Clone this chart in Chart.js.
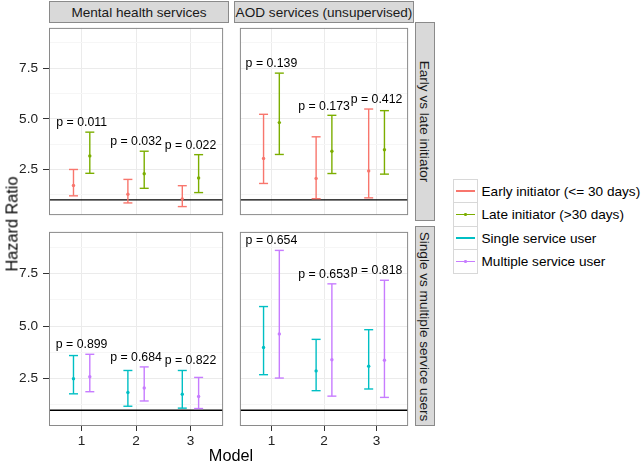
<!DOCTYPE html>
<html>
<head>
<meta charset="utf-8">
<script src="https://cdn.jsdelivr.net/npm/chart.js@4.4.0/dist/chart.umd.min.js"></script>
<style>
  body { margin: 0; background: #fff; font-family: "Liberation Sans", Arial, sans-serif; }
  #wrap { position: relative; width: 642px; height: 465px; overflow: hidden; background: #fff; }
  #wrap canvas { position: absolute; }
  .strip { position: absolute; box-sizing: border-box; background: #d9d9d9; border: 1px solid #8a8a8a;
           color: #1a1a1a; font-size: 13.6px; display: flex; align-items: center; justify-content: center;
           white-space: nowrap; overflow: visible; }
  .strip.side span { display: block; transform: rotate(90deg); white-space: nowrap; }
  .title { position: absolute; white-space: nowrap; font-size: 16.3px; color: #000; transform: translate(-50%, -50%); }
  .key { position: absolute; box-sizing: border-box; width: 25px; height: 24.5px; border: 1px solid #d8d8d8; background: #fff; }
  .key .ln { position: absolute; left: 2px; right: 2px; top: 10.8px; height: 1.3px; }
  .key .dt { position: absolute; left: 10.8px; top: 10.2px; width: 2.5px; height: 2.5px; border-radius: 50%; }
  .ltxt { position: absolute; white-space: nowrap; font-size: 13.6px; color: #000; transform: translateY(-50%); }
</style>
</head>
<body>
<div id="wrap">
  <canvas id="c00" width="229" height="199" style="left:0px;top:22px"></canvas>
  <canvas id="c01" width="180" height="199" style="left:234px;top:22px"></canvas>
  <canvas id="c10" width="229" height="239" style="left:0px;top:226px"></canvas>
  <canvas id="c11" width="180" height="239" style="left:234px;top:226px"></canvas>
</div>
<script>
// x positions / labels
const models = [1, 2, 3];
const modelLabels = ["1", "2", "3"];
const yTicks = [1.25, 2.5, 3.75, 5, 6.25, 7.5, 8.75];

const colTitles = ["Mental health services", "AOD services (unsupervised)"];
const rowTitles = ["Early vs late initiator", "Single vs multiple service users"];
const seriesNames = ["Early initiator (<= 30 days)", "Late initiator (>30 days)", "Single service user", "Multiple service user"];
const seriesColors = ["#F8766D", "#7CAE00", "#00BFC4", "#C77CFF"];

// hazard ratios (estimate, lower, upper) per model
const mhEarlyEst = [1.71, 1.28, 1.05];
const mhEarlyLo  = [1.20, 0.85, 0.67];
const mhEarlyHi  = [2.50, 2.01, 1.70];
const mhLateEst  = [3.17, 2.29, 2.08];
const mhLateLo   = [2.31, 1.57, 1.36];
const mhLateHi   = [4.34, 3.40, 3.23];

const aodEarlyEst = [3.04, 2.06, 2.43];
const aodEarlyLo  = [1.81, 1.06, 1.10];
const aodEarlyHi  = [5.22, 4.11, 5.48];
const aodLateEst  = [4.81, 3.40, 3.47];
const aodLateLo   = [3.24, 2.30, 2.27];
const aodLateHi   = [7.25, 5.17, 5.40];

const mhSingleEst = [2.50, 1.84, 1.76];
const mhSingleLo  = [1.78, 1.19, 1.10];
const mhSingleHi  = [3.60, 2.89, 2.89];
const mhMultiEst  = [2.59, 2.06, 1.65];
const mhMultiLo   = [1.88, 1.44, 1.08];
const mhMultiHi   = [3.66, 3.06, 2.56];

const aodSingleEst = [3.98, 2.87, 3.09];
const aodSingleLo  = [2.69, 1.93, 2.01];
const aodSingleHi  = [5.93, 4.37, 4.83];
const aodMultiEst  = [4.63, 3.40, 3.38];
const aodMultiLo   = [2.53, 1.67, 1.61];
const aodMultiHi   = [8.60, 7.01, 7.18];

const mhEarlyLateP   = ["p = 0.011", "p = 0.032", "p = 0.022"];
const aodEarlyLateP  = ["p = 0.139", "p = 0.173", "p = 0.412"];
const mhSingleMultiP = ["p = 0.899", "p = 0.684", "p = 0.822"];
const aodSingleMultiP = ["p = 0.654", "p = 0.653", "p = 0.818"];

const refLine = 1;
const dodge = 0.15;
const labelGap = 0.45;
const FONT = '"Liberation Sans", Arial, sans-serif';

const panels = [
  { id: "c00", left: true,  bottom: false, p: mhEarlyLateP,
    a: { est: mhEarlyEst, lo: mhEarlyLo, hi: mhEarlyHi, color: seriesColors[0] },
    b: { est: mhLateEst, lo: mhLateLo, hi: mhLateHi, color: seriesColors[1] } },
  { id: "c01", left: false, bottom: false, p: aodEarlyLateP,
    a: { est: aodEarlyEst, lo: aodEarlyLo, hi: aodEarlyHi, color: seriesColors[0] },
    b: { est: aodLateEst, lo: aodLateLo, hi: aodLateHi, color: seriesColors[1] } },
  { id: "c10", left: true,  bottom: true, p: mhSingleMultiP,
    a: { est: mhSingleEst, lo: mhSingleLo, hi: mhSingleHi, color: seriesColors[2] },
    b: { est: mhMultiEst, lo: mhMultiLo, hi: mhMultiHi, color: seriesColors[3] } },
  { id: "c11", left: false, bottom: true, p: aodSingleMultiP,
    a: { est: aodSingleEst, lo: aodSingleLo, hi: aodSingleHi, color: seriesColors[2] },
    b: { est: aodMultiEst, lo: aodMultiLo, hi: aodMultiHi, color: seriesColors[3] } },
];

const isMajor = (v) => Math.abs(v / 2.5 - Math.round(v / 2.5)) < 1e-6;

function errorBars(s, off) {
  const pts = [];
  models.forEach((m, i) => {
    pts.push({ x: m + off, y: s.lo[i] }, { x: m + off, y: s.hi[i] }, { x: m + off, y: null });
  });
  return {
    type: "line", data: pts, borderColor: s.color, borderWidth: 1.4, tension: 0, spanGaps: false,
    pointStyle: "line", pointRadius: 4.5, pointBorderWidth: 1.4, pointBorderColor: s.color,
  };
}

function estPoints(s, off) {
  return {
    type: "scatter", data: models.map((m, i) => ({ x: m + off, y: s.est[i] })),
    pointRadius: 1.7, pointBackgroundColor: s.color, pointBorderWidth: 0, showLine: false,
  };
}

function makePanel(pn) {
  const decor = {
    id: "decor",
    afterDatasetsDraw(chart) {
      const { ctx, chartArea: a, scales } = chart;
      ctx.save();
      ctx.font = "12.3px " + FONT;
      ctx.fillStyle = "#000";
      ctx.textAlign = "center";
      ctx.textBaseline = "middle";
      pn.p.forEach((t, i) => {
        const top = Math.max(pn.a.hi[i], pn.b.hi[i]) + labelGap;
        ctx.fillText(t, scales.x.getPixelForValue(models[i]), scales.y.getPixelForValue(top));
      });
      ctx.strokeStyle = "#8a8a8a";
      ctx.lineWidth = 1;
      ctx.strokeRect(a.left + 0.5, a.top + 0.5, a.right - a.left - 1, a.bottom - a.top - 1);
      ctx.restore();
    },
  };

  new Chart(document.getElementById(pn.id), {
    type: "scatter",
    data: {
      datasets: [
        errorBars(pn.a, -dodge), estPoints(pn.a, -dodge),
        errorBars(pn.b, dodge), estPoints(pn.b, dodge),
        { type: "line", data: [{ x: 0.4, y: refLine }, { x: 3.6, y: refLine }],
          borderColor: "#000", borderWidth: 1.3, pointRadius: 0 },
      ],
    },
    options: {
      responsive: false,
      animation: false,
      events: [],
      layout: { padding: 0 },
      plugins: { legend: { display: false }, tooltip: { enabled: false } },
      scales: {
        x: {
          type: "linear", min: 0.4, max: 3.6,
          afterBuildTicks: (s) => { s.ticks = models.map((v) => ({ value: v })); },
          ticks: { display: pn.bottom, autoSkip: false, maxRotation: 0, padding: 2, color: "#222",
                   font: { size: 13.6, family: FONT }, callback: (v, i) => modelLabels[i] },
          grid: { color: "#ebebeb", lineWidth: 1, drawTicks: pn.bottom, tickLength: 5, tickColor: "#333" },
          border: { display: false },
          afterFit: (s) => { s.height = pn.bottom ? 39 : 0; s.paddingLeft = 0; s.paddingRight = 0; },
        },
        y: {
          type: "linear", min: 0.25, max: 9.48,
          afterBuildTicks: (s) => { s.ticks = yTicks.map((v) => ({ value: v })); },
          ticks: { display: pn.left, autoSkip: false, padding: 5, color: "#222",
                   font: { size: 13.6, family: FONT },
                   callback: (v) => (isMajor(v) ? v.toFixed(1) : "") },
          grid: {
            color: (c) => (c.tick && isMajor(c.tick.value) ? "#ebebeb" : "#f6f6f6"),
            lineWidth: 1, drawTicks: pn.left, tickLength: 6,
            tickColor: (c) => (c.tick && isMajor(c.tick.value) ? "#333" : "rgba(0,0,0,0)"),
          },
          border: { display: false },
          afterFit: (s) => { s.width = pn.left ? 49 : 0; s.paddingTop = 0; s.paddingBottom = 0; },
        },
      },
    },
    plugins: [decor],
  });
}

panels.forEach(makePanel);

// facet strips, axis titles and legend
const wrap = document.getElementById("wrap");
function add(cls, style, html) {
  const d = document.createElement("div");
  d.className = cls;
  Object.assign(d.style, style);
  d.innerHTML = html;
  wrap.appendChild(d);
  return d;
}

add("strip", { left: "49px", top: "1px", width: "180px", height: "22px" }, colTitles[0]);
add("strip", { left: "234px", top: "1px", width: "180px", height: "22px" }, colTitles[1]);
add("strip side", { left: "415px", top: "22px", width: "20px", height: "199px" }, "<span>" + rowTitles[0] + "</span>");
add("strip side", { left: "415px", top: "226px", width: "20px", height: "200px" }, "<span>" + rowTitles[1] + "</span>");

add("title", { left: "231px", top: "455px" }, "Model");
add("title", { left: "11.5px", top: "224px", transform: "translate(-50%, -50%) rotate(-90deg)" }, "Hazard Ratio");

seriesNames.forEach((name, i) => {
  const top = 178.7 + i * 23.5;
  add("key", { left: "452.5px", top: top + "px" },
      '<div class="ln" style="background:' + seriesColors[i] + '"></div>' +
      '<div class="dt" style="background:' + seriesColors[i] + '"></div>');
  add("ltxt", { left: "481.5px", top: (top + 12.2) + "px" }, name.replace(/</g, "&lt;").replace(/>/g, "&gt;"));
});
</script>
</body>
</html>
